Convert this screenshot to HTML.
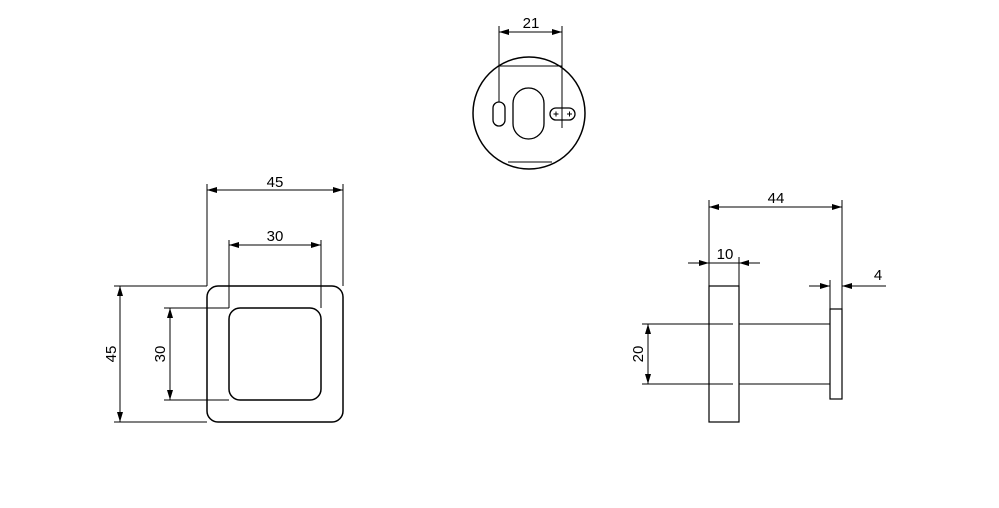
<!DOCTYPE html>
<html><head><style>
html,body{margin:0;padding:0;background:#fff;}
svg{display:block;}
text{font-family:"Liberation Sans",sans-serif;font-size:15px;fill:#000;}
</style></head><body>
<svg width="999" height="508" viewBox="0 0 999 508" xmlns="http://www.w3.org/2000/svg">
<defs>
<marker id="a" viewBox="0 0 10 6" refX="10" refY="3" markerWidth="10" markerHeight="6" orient="auto-start-reverse" markerUnits="userSpaceOnUse"><path d="M0,0L10,3L0,6z" fill="#000"/></marker>
</defs>
<g stroke="#000" fill="none" stroke-width="1">
<circle cx="529" cy="113" r="56" stroke-width="1.5"/>
<line x1="499" y1="66" x2="562" y2="66"/>
<line x1="508" y1="162" x2="552" y2="162"/>
<rect x="493" y="102" width="12" height="24" rx="6" stroke-width="1.3"/>
<rect x="513" y="88" width="31" height="51" rx="15.5" stroke-width="1.3"/>
<rect x="550" y="108" width="25" height="12" rx="6" stroke-width="1.3"/>
<path d="M553.5,114h5M556,111.5v5M567,114h5M569.5,111.5v5"/>
<line x1="499" y1="26" x2="499" y2="102"/>
<line x1="562" y1="26" x2="562" y2="128"/>
<line x1="499" y1="32" x2="562" y2="32" marker-start="url(#a)" marker-end="url(#a)"/>
<rect x="207" y="286" width="136" height="136" rx="11" stroke-width="1.5"/>
<rect x="229" y="308" width="92" height="92" rx="11" stroke-width="1.5"/>
<line x1="207" y1="184" x2="207" y2="286"/>
<line x1="343" y1="184" x2="343" y2="286"/>
<line x1="207" y1="190" x2="343" y2="190" marker-start="url(#a)" marker-end="url(#a)"/>
<line x1="229" y1="240" x2="229" y2="308"/>
<line x1="321" y1="240" x2="321" y2="308"/>
<line x1="229" y1="245" x2="321" y2="245" marker-start="url(#a)" marker-end="url(#a)"/>
<line x1="114" y1="286" x2="207" y2="286"/>
<line x1="114" y1="422" x2="207" y2="422"/>
<line x1="120" y1="286" x2="120" y2="422" marker-start="url(#a)" marker-end="url(#a)"/>
<line x1="164" y1="308" x2="229" y2="308"/>
<line x1="164" y1="400" x2="229" y2="400"/>
<line x1="170" y1="308" x2="170" y2="400" marker-start="url(#a)" marker-end="url(#a)"/>
<rect x="709" y="286" width="30" height="136" stroke-width="1.2"/>
<rect x="830" y="309" width="12" height="90" stroke-width="1.2"/>
<line x1="739" y1="324" x2="830" y2="324"/>
<line x1="739" y1="384" x2="830" y2="384"/>
<line x1="642" y1="324" x2="733" y2="324"/>
<line x1="642" y1="384" x2="733" y2="384"/>
<line x1="648" y1="324" x2="648" y2="384" marker-start="url(#a)" marker-end="url(#a)"/>
<line x1="709" y1="200" x2="709" y2="286"/>
<line x1="739" y1="257" x2="739" y2="286"/>
<line x1="842" y1="200" x2="842" y2="309"/>
<line x1="830" y1="280" x2="830" y2="309"/>
<line x1="709" y1="207" x2="842" y2="207" marker-start="url(#a)" marker-end="url(#a)"/>
<line x1="688" y1="263" x2="709" y2="263" marker-end="url(#a)"/>
<line x1="760" y1="263" x2="739" y2="263" marker-end="url(#a)"/>
<line x1="709" y1="263" x2="739" y2="263"/>
<line x1="809" y1="286" x2="830" y2="286" marker-end="url(#a)"/>
<line x1="886" y1="286" x2="842" y2="286" marker-end="url(#a)"/>
</g>
<text x="531" y="28" text-anchor="middle">21</text>
<text x="275" y="187" text-anchor="middle">45</text>
<text x="275" y="241" text-anchor="middle">30</text>
<text transform="translate(116,354) rotate(-90)" text-anchor="middle">45</text>
<text transform="translate(165,354) rotate(-90)" text-anchor="middle">30</text>
<text transform="translate(643,354) rotate(-90)" text-anchor="middle">20</text>
<text x="776" y="203" text-anchor="middle">44</text>
<text x="725" y="259" text-anchor="middle">10</text>
<text x="878" y="280" text-anchor="middle">4</text>
</svg>
</body></html>
